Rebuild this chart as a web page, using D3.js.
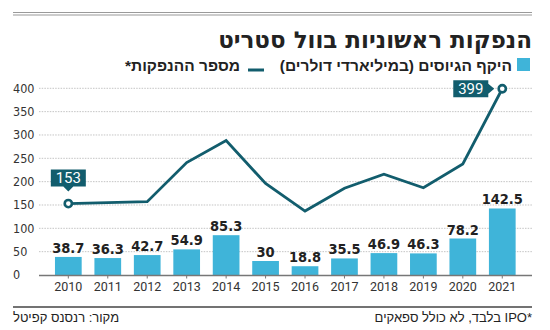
<!DOCTYPE html>
<html lang="he">
<head>
<meta charset="utf-8">
<script src="https://cdn.jsdelivr.net/npm/d3@7"></script>
<style>
  html, body { margin: 0; padding: 0; background: #fff; }
  svg { display: block; }
</style>
</head>
<body>
<svg id="chart" width="550" height="330"></svg>
<script>
// IPO activity on Wall Street, 2010–2021
const years = ["2010","2011","2012","2013","2014","2015","2016","2017","2018","2019","2020","2021"];
// amount raised, billions of dollars (bars)
const raised = [38.7, 36.3, 42.7, 54.9, 85.3, 30, 18.8, 35.5, 46.9, 46.3, 78.2, 142.5];
// number of IPOs (line)
const ipoCount = [153, 155, 157, 241, 288, 196, 137, 186, 216, 187, 238, 399];
const yTicks = [0, 50, 100, 150, 200, 250, 300, 350, 400];
// points whose value gets a callout box
const callouts = [{ i: 0, pos: "top" }, { i: 11, pos: "left" }];

const titleText = "הנפקות ראשוניות בוול סטריט";
const legendBars = "היקף הגיוסים (במיליארדי דולרים)";
const legendLine = "מספר ההנפקות*";
const noteText = "*IPO בלבד, לא כולל ספאקים";
const sourceText = "מקור: רנסנס קפיטל";

const BAR = "#3fb4d9", LINE = "#125d6d", INK = "#222", GRID = "#b5b5b5";
const hebFont = "'Liberation Sans', 'DejaVu Sans', sans-serif";
const numFont = "'Liberation Sans Narrow', 'DejaVu Sans Condensed', sans-serif";

const svg = d3.select("#chart");
const left = 13, right = 532;

// top double rule
svg.append("line").attr("x1", left).attr("x2", right).attr("y1", 12.5).attr("y2", 12.5)
  .attr("stroke", "#9a9a9a").attr("stroke-width", 1.2);
svg.append("line").attr("x1", left).attr("x2", right).attr("y1", 15).attr("y2", 15)
  .attr("stroke", "#9a9a9a").attr("stroke-width", 1.2);

// title
svg.append("text").attr("x", right).attr("y", 48).attr("direction", "rtl")
  .attr("text-anchor", "start")
  .style("font-family", "'DejaVu Sans', sans-serif")
  .style("font-weight", "bold").style("font-size", "23px").attr("fill", INK)
  .text(titleText);

// legend
svg.append("rect").attr("x", 517).attr("y", 58).attr("width", 13).attr("height", 13).attr("fill", BAR);
svg.append("text").attr("x", 512).attr("y", 71).attr("direction", "rtl").attr("text-anchor", "start")
  .style("font-family", hebFont).style("font-weight", "bold").style("font-size", "15.5px").attr("fill", INK)
  .text(legendBars);
svg.append("line").attr("x1", 248).attr("x2", 264).attr("y1", 70).attr("y2", 70)
  .attr("stroke", LINE).attr("stroke-width", 3);
svg.append("text").attr("x", 240).attr("y", 71).attr("direction", "rtl").attr("text-anchor", "start")
  .style("font-family", hebFont).style("font-weight", "bold").style("font-size", "15.5px").attr("fill", INK)
  .text(legendLine);

// scales
const x = d3.scaleBand().domain(years).range([48.6, 522]).paddingInner(0.323).paddingOuter(0.1615);
const y = d3.scaleLinear().domain([0, 400]).range([275, 88.3]);

// grid + y labels
const gridG = svg.append("g");
gridG.selectAll("line").data(yTicks.filter(d => d > 0)).join("line")
  .attr("x1", 39).attr("x2", right).attr("y1", d => y(d)).attr("y2", d => y(d))
  .attr("stroke", GRID).attr("stroke-width", 0.8).attr("stroke-dasharray", "1.5,1.2");
gridG.selectAll("text").data(yTicks).join("text")
  .attr("x", left).attr("y", d => y(d)).attr("dy", "0.35em")
  .style("font-family", numFont).style("font-size", "12.5px").attr("fill", "#333")
  .text(d => d);

// bars
svg.append("g").selectAll("rect").data(years).join("rect")
  .attr("x", d => x(d)).attr("width", x.bandwidth())
  .attr("y", (d, i) => y(raised[i])).attr("height", (d, i) => y(0) - y(raised[i]))
  .attr("fill", BAR);

// bar value labels
svg.append("g").selectAll("text").data(years).join("text")
  .attr("x", d => x(d) + x.bandwidth() / 2).attr("y", (d, i) => y(raised[i]) - 4)
  .attr("text-anchor", "middle")
  .style("font-family", numFont).style("font-weight", "bold").style("font-size", "14.5px").attr("fill", INK)
  .text((d, i) => raised[i]);

// x axis
const xAxis = d3.axisBottom(x).tickSize(3).tickSizeOuter(0);
const xg = svg.append("g").attr("transform", `translate(0,${y(0) + 0.5})`).call(xAxis);
xg.select(".domain").attr("d", `M39,0H${right}`).attr("stroke", "#777").attr("stroke-width", 1.5);
xg.selectAll(".tick line").attr("stroke", "#777");
xg.selectAll(".tick text").attr("y", 7).attr("dy", "0.71em")
  .style("font-family", "Roboto, sans-serif").style("font-size", "12.5px").attr("fill", "#333");

// IPO count line
const cx = i => x(years[i]) + x.bandwidth() / 2;
const line = d3.line().x((d, i) => cx(i)).y(d => y(d));
svg.append("path").datum(ipoCount).attr("d", line)
  .attr("fill", "none").attr("stroke", LINE).attr("stroke-width", 2.8).attr("stroke-linejoin", "miter");

// callouts
callouts.forEach(c => {
  const px = cx(c.i), py = y(ipoCount[c.i]);
  const g = svg.append("g");
  const w = 35, h = 17;
  if (c.pos === "top") {
    const bx = px - w / 2, by = py - 13 - h - 4;
    g.append("path").attr("fill", LINE)
      .attr("d", `M${bx},${by}h${w}v${h}h${-(w / 2 - 5)}l-5,5l-5,-5h${-(w / 2 - 5)}z`);
    g.append("text").attr("x", px).attr("y", by + h / 2).attr("dy", "0.36em").attr("text-anchor", "middle")
      .style("font-family", "Roboto, sans-serif").style("font-size", "15px").attr("fill", "#fff")
      .text(ipoCount[c.i]);
  } else {
    const bx = px - 14 - w, by = py - h / 2;
    g.append("path").attr("fill", LINE)
      .attr("d", `M${bx},${by}h${w}v${h / 2 - 5}l6,5l-6,5v${h / 2 - 5}h${-w}z`);
    g.append("text").attr("x", bx + w / 2).attr("y", py).attr("dy", "0.36em").attr("text-anchor", "middle")
      .style("font-family", "Roboto, sans-serif").style("font-size", "15px").attr("fill", "#fff")
      .text(ipoCount[c.i]);
  }
  g.append("circle").attr("cx", px).attr("cy", py).attr("r", 3.6)
    .attr("fill", "#fff").attr("stroke", LINE).attr("stroke-width", 2.6);
});

// footer
svg.append("line").attr("x1", left).attr("x2", right).attr("y1", 307).attr("y2", 307)
  .attr("stroke", "#444").attr("stroke-width", 1.5);
svg.append("text").attr("x", right).attr("y", 322).attr("direction", "rtl").attr("text-anchor", "start")
  .style("font-family", hebFont).style("font-size", "13px").attr("fill", INK)
  .text(noteText);
svg.append("text").attr("x", left).attr("y", 322).attr("direction", "rtl").attr("text-anchor", "end")
  .style("font-family", hebFont).style("font-size", "13px").attr("fill", INK)
  .text(sourceText);
</script>
</body>
</html>
